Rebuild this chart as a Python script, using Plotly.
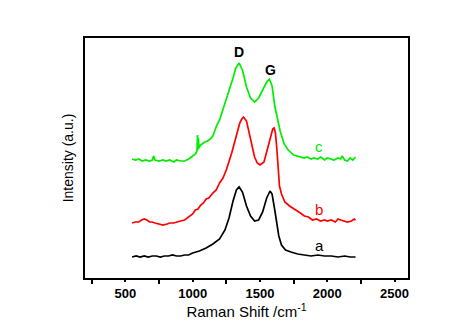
import plotly.graph_objects as go

# Raman spectra (Raman shift in cm^-1, offset intensity in a.u.)
shift_a = [550, 580, 610, 640, 670, 700, 730, 760, 790, 820, 850, 880, 910, 940, 970, 1000,
           1050, 1100, 1150, 1200, 1240, 1270, 1300, 1325, 1345, 1370, 1400, 1430, 1460,
           1490, 1520, 1550, 1575, 1590, 1610, 1625, 1640, 1660, 1690, 1730, 1780, 1830,
           1880, 1930, 1980, 2030, 2080, 2130, 2170, 2210]
int_a = [21, 22, 21, 22, 21, 22, 22, 21, 22, 22, 23, 22, 22, 23, 23, 25,
         27, 30, 34, 39, 48, 60, 77, 88, 91, 86, 72, 62, 57,
         58, 66, 80, 87, 84, 68, 55, 42, 33, 28, 26, 24, 23,
         22, 23, 22, 22, 21, 22, 21, 21]

shift_b = [550, 575, 600, 620, 640, 660, 680, 700, 720, 750, 780, 810, 830, 860, 880, 910,
           940, 960, 980, 1000, 1020, 1040, 1060, 1080, 1100, 1120, 1150, 1175, 1200, 1225,
           1250, 1270, 1290, 1320, 1350, 1365, 1378, 1400, 1430, 1460, 1480, 1500, 1530,
           1560, 1580, 1595, 1605, 1615, 1625, 1635, 1645, 1660, 1685, 1720, 1770, 1800,
           1830, 1860, 1890, 1920, 1950, 1980, 2000, 2030, 2060, 2080, 2100, 2130, 2150,
           2180, 2200, 2210]
int_b = [55, 56, 56, 58, 59, 58, 56, 56, 55, 54, 53, 54, 55, 55, 56, 57,
         58, 60, 62, 64, 68, 69, 73, 75, 79, 80, 85, 88, 95, 100,
         108, 116, 125, 140, 155, 159, 161, 157, 138, 121, 115, 113, 116,
         130, 141, 149, 150, 145, 130, 110, 92, 84, 76, 72, 68, 65,
         62, 61, 58, 59, 57, 58, 57, 58, 56, 59, 58, 57, 56, 57, 59, 58]

shift_c = [550, 575, 600, 625, 650, 680, 700, 710, 720, 750, 780, 800, 830, 860, 880, 910,
           940, 970, 1000, 1020, 1032, 1036, 1039, 1042, 1047, 1052, 1058, 1070, 1090, 1110,
           1130, 1150, 1180, 1200, 1240, 1270, 1300, 1320, 1345, 1370, 1400, 1430, 1460,
           1490, 1520, 1550, 1570, 1590, 1610, 1630, 1650, 1680, 1710, 1750, 1780, 1800,
           1830, 1850, 1880, 1900, 1930, 1950, 1980, 2000, 2030, 2050, 2080, 2100, 2110,
           2130, 2150, 2170, 2190, 2210]
int_c = [119, 118, 119, 117, 118, 117, 118, 122, 118, 117, 118, 117, 118, 116, 118, 117,
         117, 119, 122, 124, 127, 143, 128, 140, 130, 131, 133, 134, 136, 137,
         139, 142, 153, 158, 175, 186, 200, 210, 215, 208, 191, 180, 176,
         180, 188, 196, 199, 192, 172, 158, 147, 134, 128, 123, 122, 121,
         120, 121, 119, 120, 119, 121, 118, 120, 119, 118, 120, 119, 122, 118, 117, 120, 118, 121]

spectra = [
    ("a", shift_a, int_a, "#000000"),
    ("b", shift_b, int_b, "#ff0000"),
    ("c", shift_c, int_c, "#00ee00"),
]

# Curve labels and band assignments
curve_labels = ["a", "b", "c"]
curve_label_x = [1944, 1937, 1937]
curve_label_y = [33, 69, 132]
band_labels = ["D", "G"]
band_label_x = [1342, 1581]
band_label_y = [226, 208]

x_tick_vals = [500, 1000, 1500, 2000, 2500]

fig = go.Figure()
for name, xs, ys, color in spectra:
    fig.add_trace(go.Scatter(x=xs, y=ys, mode="lines", name=name,
                             line=dict(color=color, width=1.7), showlegend=False))

for txt, x, y, (_, _, _, color) in zip(curve_labels, curve_label_x, curve_label_y, spectra):
    fig.add_annotation(x=x, y=y, text=txt, showarrow=False,
                       font=dict(family="Liberation Sans, Arial", size=15, color=color))

for txt, x, y in zip(band_labels, band_label_x, band_label_y):
    fig.add_annotation(x=x, y=y, text="<b>%s</b>" % txt, showarrow=False,
                       font=dict(family="Liberation Sans, Arial", size=14, color="#000000"))

fig.update_xaxes(
    range=[200, 2600], tickvals=x_tick_vals,
    ticktext=["<b>%d</b>" % v for v in x_tick_vals],
    ticks="outside", ticklen=2, tickwidth=1.5, tickcolor="black",
    minor=dict(tickvals=[250, 750, 1250, 1750, 2250], ticks="outside", ticklen=4,
               tickwidth=1.5, tickcolor="black"),
    showline=True, linecolor="black", linewidth=2, mirror=True,
    showgrid=False, zeroline=False,
    tickfont=dict(family="Liberation Sans, Arial", size=13, color="black"),
    title=dict(text="Raman Shift /cm<sup>-1</sup>", standoff=5,
               font=dict(family="Liberation Sans, Arial", size=15, color="black")),
)
fig.update_yaxes(
    range=[0, 240], showticklabels=False, ticks="",
    showline=True, linecolor="black", linewidth=2, mirror=True,
    showgrid=False, zeroline=False,
    title=dict(text="Intensity (a.u.)", standoff=6,
               font=dict(family="Liberation Sans, Arial", size=14, color="black")),
)

fig.update_layout(
    width=474, height=335,
    margin=dict(l=85, r=66, t=38, b=57),
    paper_bgcolor="white", plot_bgcolor="white",
)

fig.write_html("out.html")
